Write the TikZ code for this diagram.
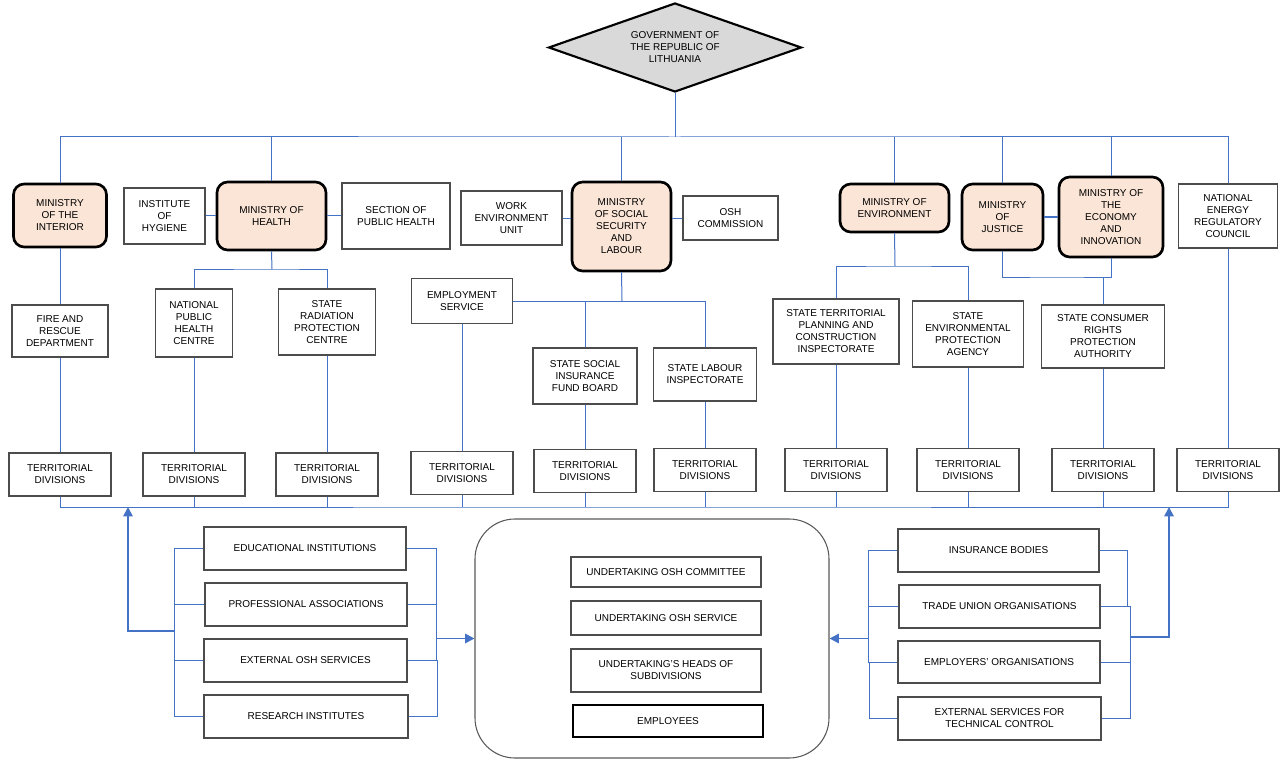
\documentclass[tikz,border=0pt]{standalone}
\usepackage{fontspec}
\setmainfont{Liberation Sans}
\usetikzlibrary{shapes.geometric,arrows.meta}
\definecolor{lnk}{RGB}{68,114,196}
\definecolor{minfill}{RGB}{251,229,214}
\definecolor{govfill}{RGB}{217,217,217}
\tikzset{
  sz/.style 2 args={minimum width=#1*0.75pt,minimum height=#2*0.75pt},
  base/.style={inner sep=0pt,align=center,font=\fontsize{7.5}{9}\selectfont},
  box/.style={base,draw=black!70,line width=1pt},
  mini/.style={base,draw=black,line width=2pt,rounded corners=8pt,fill=minfill},
  emph/.style={base,draw=black,line width=1.5pt},
  lk/.style={draw=lnk,line width=0.75pt},
  arr/.style={draw=lnk,line width=1.4pt,-{Triangle[length=7pt,width=7pt]}},
}
\begin{document}
\begin{tikzpicture}[x=0.75pt,y=-0.75pt]
\useasboundingbox (0,0) rectangle (1285,770);
% government
\node[base,shape=diamond,aspect=2.8,draw=black,line width=1.6pt,fill=govfill,sz={253}{89}] (gov) at (675,47.5) {GOVERNMENT OF\\THE REPUBLIC OF\\LITHUANIA};
% ministries and top row
\node[mini,sz={93}{63}] (mint) at (60,215.5) {MINISTRY\\OF THE\\INTERIOR};
\node[box,sz={81}{56}] (hyg) at (164.5,216) {INSTITUTE\\OF\\HYGIENE};
\node[mini,sz={109}{68}] (mhealth) at (271.5,216) {MINISTRY OF\\HEALTH};
\node[box,sz={108}{66}] (sph) at (396,216) {SECTION OF\\PUBLIC HEALTH};
\node[box,sz={101}{54}] (weu) at (511.5,218) {WORK\\ENVIRONMENT\\UNIT};
\node[mini,sz={99}{89}] (msoc) at (621.5,226.5) {MINISTRY\\OF SOCIAL\\SECURITY\\AND\\LABOUR};
\node[box,sz={95}{44}] (oshc) at (730.5,218) {OSH\\COMMISSION};
\node[mini,sz={109}{48}] (menv) at (894.5,208) {MINISTRY OF\\ENVIRONMENT};
\node[mini,sz={81}{66}] (mjus) at (1002.5,217) {MINISTRY\\OF\\JUSTICE};
\node[mini,sz={104}{80}] (meco) at (1111,217) {MINISTRY OF\\THE\\ECONOMY\\AND\\INNOVATION};
\node[box,sz={99}{64}] (nerc) at (1228,216) {NATIONAL\\ENERGY\\REGULATORY\\COUNCIL};
% second row
\node[box,sz={96}{52}] (fire) at (60,331) {FIRE AND\\RESCUE\\DEPARTMENT};
\node[box,sz={77}{68}] (nphc) at (194,323) {NATIONAL\\PUBLIC\\HEALTH\\CENTRE};
\node[box,sz={97}{66}] (srpc) at (327,322) {STATE\\RADIATION\\PROTECTION\\CENTRE};
\node[box,sz={101}{45}] (es) at (462,301) {EMPLOYMENT\\SERVICE};
\node[box,sz={104}{56}] (ssifb) at (585,376) {STATE SOCIAL\\INSURANCE\\FUND BOARD};
\node[box,sz={103}{53}] (sli) at (705,374.5) {STATE LABOUR\\INSPECTORATE};
\node[box,sz={126}{65}] (stpci) at (836,331.5) {STATE TERRITORIAL\\PLANNING AND\\CONSTRUCTION\\INSPECTORATE};
\node[box,sz={111}{66}] (sepa) at (968,334) {STATE\\ENVIRONMENTAL\\PROTECTION\\AGENCY};
\node[box,sz={123}{63}] (scrpa) at (1103,336.5) {STATE CONSUMER\\RIGHTS\\PROTECTION\\AUTHORITY};
% territorial divisions
\foreach \n/\x/\y in {1/60/474.5,2/194/474.5,3/327/474.5,4/462/473,5/585/471,6/705/470,7/836/470,8/968/470,9/1103/470,10/1228/470}
  \node[box,sz={102}{43}] (td\n) at (\x,\y) {TERRITORIAL\\DIVISIONS};
% bottom left group
\node[box,sz={202}{43}] (ei) at (305,548.5) {EDUCATIONAL INSTITUTIONS};
\node[box,sz={202}{43}] (pa) at (306,604.5) {PROFESSIONAL ASSOCIATIONS};
\node[box,sz={203}{43}] (eos) at (305.5,660.5) {EXTERNAL OSH SERVICES};
\node[box,sz={204}{43}] (ri) at (306,716.5) {RESEARCH INSTITUTES};
% undertaking
\node[base,draw=black!65,line width=0.8pt,rounded corners=30pt,sz={354}{239}] (big) at (652,638.5) {};
\node[box,sz={190}{30}] (uoc) at (666,572) {UNDERTAKING OSH COMMITTEE};
\node[box,sz={190}{34}] (uos) at (666,618) {UNDERTAKING OSH SERVICE};
\node[box,sz={190}{43}] (uhs) at (666,670.5) {UNDERTAKING'S HEADS OF\\SUBDIVISIONS};
\node[emph,sz={190}{32}] (emp) at (668,721) {EMPLOYEES};
% bottom right group
\node[box,sz={201}{43}] (ib) at (998.5,550.5) {INSURANCE BODIES};
\node[box,sz={201}{43}] (tuo) at (999.5,606.5) {TRADE UNION ORGANISATIONS};
\node[box,sz={202}{42}] (eo) at (999,662) {EMPLOYERS' ORGANISATIONS};
\node[box,sz={203}{43}] (estc) at (999.5,718.5) {EXTERNAL SERVICES FOR\\TECHNICAL CONTROL};
% helper coordinates
\coordinate (bt) at (675,137);
\coordinate (bb) at (640,507);
\coordinate (hb) at (272,269);
\coordinate (sb) at (622,301);
\coordinate (eb) at (895,266);
\coordinate (je) at (1057,277);
\coordinate (lx) at (174,0);
\coordinate (rx) at (436,0);
\coordinate (rx2) at (437,0);
\coordinate (la) at (174,631);
\coordinate (lup) at (128,507);
\coordinate (ra) at (436,638.5);
\coordinate (qx) at (868,0);
\coordinate (qx2) at (869,0);
\coordinate (sx) at (1127,0);
\coordinate (sx2) at (1130,0);
\coordinate (qa) at (868,638.5);
\coordinate (sa) at (1130,637);
\coordinate (rup) at (1169,507);
% top bus
\draw[lk] (gov.south) -- (bt);
\draw[lk] (mint.north) |- (bt) -| (nerc.north);
\foreach \m in {mhealth,msoc,menv,mjus,meco}
  \draw[lk] (\m.north) -- (\m.north |- bt);
% side links
\draw[lk] (hyg.east) -- (mhealth.west);
\draw[lk] (mhealth.east) -- (sph.west);
\draw[lk] (weu.east) -- (weu.east -| msoc.west);
\draw[lk] (msoc.east |- oshc.west) -- (oshc.west);
\draw[lk] (mjus.east) -- (meco.west);
% branches
\draw[lk] (mint.south) -- (fire.north);
\draw[lk] (mhealth.south) -- (hb);
\draw[lk] (nphc.north) |- (hb) -| (srpc.north);
\draw[lk] (msoc.south) -- (sb);
\draw[lk] (es.east) -| (sli.north);
\draw[lk] (ssifb.north) -- (ssifb.north |- sb);
\draw[lk] (menv.south) -- (eb);
\draw[lk] (stpci.north) |- (eb) -| (sepa.north);
\draw[lk] (mjus.south) |- (je) -| (meco.south);
\draw[lk] (scrpa.north) -- (scrpa.north |- je);
% down to territorial divisions
\draw[lk] (fire.south) -- (td1.north);
\draw[lk] (nphc.south) -- (td2.north);
\draw[lk] (srpc.south) -- (td3.north);
\draw[lk] (es.south) -- (td4.north);
\draw[lk] (ssifb.south) -- (td5.north);
\draw[lk] (sli.south) -- (td6.north);
\draw[lk] (stpci.south) -- (td7.north);
\draw[lk] (sepa.south) -- (td8.north);
\draw[lk] (scrpa.south) -- (td9.north);
\draw[lk] (nerc.south) -- (td10.north);
% bottom bus
\draw[lk] (td1.south) |- (bb) -| (td10.south);
\foreach \n in {2,...,9}
  \draw[lk] (td\n.south) -- (td\n.south |- bb);
% left group brackets
\draw[lk] (ei.west) -- (ei.west -| lx) -- (ri.west -| lx) -- (ri.west);
\draw[lk] (pa.west) -- (pa.west -| lx);
\draw[lk] (eos.west) -- (eos.west -| lx);
\draw[arr] (la) -| (lup);
\draw[lk] (ei.east) -- (ei.east -| rx) -- (eos.east -| rx);
\draw[lk] (pa.east) -- (pa.east -| rx);
\draw[lk] (eos.east) -- (eos.east -| rx2) -- (ri.east -| rx2) -- (ri.east);
\draw[arr] (ra) -- (big.west);
% right group brackets
\draw[lk] (ib.west) -- (ib.west -| qx) -- (eo.west -| qx) -- (eo.west);
\draw[lk] (tuo.west) -- (tuo.west -| qx);
\draw[lk] (eo.west -| qx2) -- (estc.west -| qx2) -- (estc.west);
\draw[arr] (qa) -- (big.east);
\draw[lk] (ib.east) -- (ib.east -| sx) -- (tuo.east -| sx);
\draw[lk] (tuo.east) -- (tuo.east -| sx2) -- (estc.east -| sx2) -- (estc.east);
\draw[lk] (eo.east) -- (eo.east -| sx2);
\draw[arr] (sa) -| (rup);
\end{tikzpicture}
\end{document}
